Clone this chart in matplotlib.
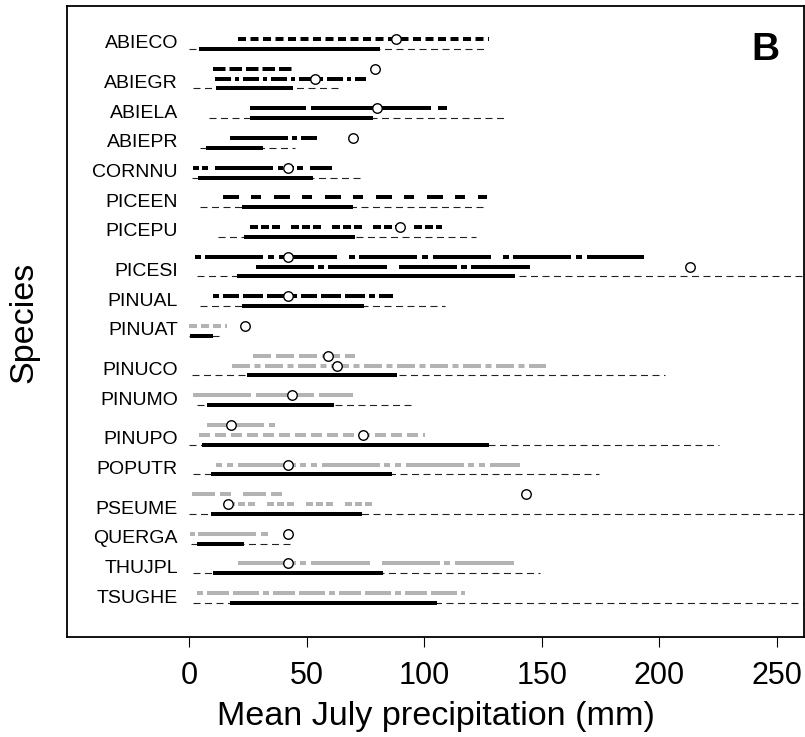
import matplotlib
import matplotlib.pyplot as plt
import numpy as np

matplotlib.use("Agg")

plt.rcParams["font.family"] = ["Liberation Sans", "DejaVu Sans"]
plt.rcParams["lines.scale_dashes"] = False

# species and their full / core precipitation ranges (mm)
species = ["ABIECO", "ABIEGR", "ABIELA", "ABIEPR", "CORNNU", "PICEEN", "PICEPU",
           "PICESI", "PINUAL", "PINUAT", "PINUCO", "PINUMO", "PINUPO", "POPUTR",
           "PSEUME", "QUERGA", "THUJPL", "TSUGHE"]
range_lo = [0, 1.7, 8.5, 4.7, 1.3, 4.7, 12.5, 3.4, 4.7, 0, 1.3, 3.4, 0, 1.7, 0, 1.0, 1.7, 1.7]
range_hi = [125.5, 64.3, 135.3, 45.1, 74, 125.1, 122.1, 300, 109, 14.5, 202.6, 96.2,
            225.5, 174.5, 300, 43, 149.4, 300]
core_lo = [4.3, 11.5, 26, 7.2, 3.8, 22.4, 23.4, 20.4, 22.6, 0.4, 24.5, 7.5, 5.5, 9.4,
           9.4, 3.4, 10.2, 17.4]
core_hi = [81, 44.3, 78.3, 31.5, 52.8, 69.8, 70.6, 138.7, 74.5, 10.2, 88.5, 61.7,
           127.7, 86.4, 73.6, 23.4, 82.6, 105.5]

# extra ranges drawn above each species (in drawing order, top to bottom)
extra_sp = ["ABIECO", "ABIEGR", "ABIEGR", "ABIELA", "ABIEPR", "CORNNU", "PICEEN",
            "PICEPU", "PICESI", "PICESI", "PINUAL", "PINUAT", "PINUCO", "PINUCO",
            "PINUMO", "PINUPO", "PINUPO", "POPUTR", "PSEUME", "PSEUME", "QUERGA",
            "THUJPL", "TSUGHE"]
extra_lo = [21, 10.2, 11, 26, 17.4, 1.7, 14.3, 26, 2.6, 28.5, 10.2, 0, 27.3, 18.4,
            1.5, 7.5, 4.3, 11.5, 1.3, 16.6, 0.4, 21, 3.4]
extra_hi = [127.6, 43.8, 75.3, 110.6, 54.5, 60.9, 126.8, 107.7, 193.6, 145.5, 86.8,
            16.2, 70.6, 151.9, 69.8, 36.6, 100.4, 140.9, 40, 80.4, 34.5, 138.7, 117.4]
extra_opt = [88, 79, 53.6, 80, 69.8, 42, np.nan, 89.8, 42, 213.2, 42, 23.8, 59.1, 63,
             43.8, 17.9, 74, 42, 143.4, 16.6, 42, 42, np.nan]

# styles of the extra lines (dash patterns in pixels)
GRAY = "#b3b3b3"
extra_color = ["k"] * 11 + [GRAY] * 12
extra_dash = [
    (8, 4.5), (12.5, 4), (16, 4, 4, 4), (56, 5, 120, 7, 9, 5), (58, 4, 5, 4, 58, 12),
    (6, 3, 6, 7, 58, 5, 5, 5), (16, 12, 10, 13), (8, 3, 8, 3, 8, 11),
    (6, 4, 58, 5, 6, 5, 58, 12), (58, 4, 6, 4, 59, 12), (6, 4, 16, 4, 20, 4, 20, 4),
    (8, 4), (18, 5), (18, 4.5, 6, 4.5), (58, 5), (57, 5, 7, 5), (11, 5),
    (6, 5, 6, 5, 58, 4), (23, 5, 11, 12), (7, 3, 7, 3, 7, 12), (5, 3, 58, 5, 7, 5),
    (58, 4, 6, 5, 59, 12), (6, 4, 22, 4, 26, 4),
]

PX = 0.72  # points per pixel at 100 dpi
THICK = 4 * PX

fig = plt.figure(figsize=(8.05, 7.37), dpi=100)
ax = fig.add_axes([67 / 805, 1 - 637 / 737, 737 / 805, 631 / 737])

# row positions: extras first, then the base row, then one blank row
pos = 0
base_y = {}
extra_y = []
for sp in species:
    n = extra_sp.count(sp)
    extra_y.extend(range(pos, pos + n))
    base_y[sp] = pos + n
    pos += n + 2

for i, sp in enumerate(species):
    y = base_y[sp]
    ax.plot([range_lo[i], range_hi[i]], [y, y], color="#222222", lw=0.8,
            dashes=(7 * PX, 4.5 * PX))
    ax.plot([core_lo[i], core_hi[i]], [y, y], color="k", lw=THICK,
            solid_capstyle="butt")
    ax.text(-4.7, y - 0.5, sp, ha="right", va="center", fontsize=14)

for j in range(len(extra_sp)):
    y = extra_y[j]
    ax.plot([extra_lo[j], extra_hi[j]], [y, y], color=extra_color[j], lw=THICK,
            dashes=[d * PX for d in extra_dash[j]], dash_capstyle="butt")
    if not np.isnan(extra_opt[j]):
        ax.plot(extra_opt[j], y, "o", ms=9.5 * PX, mfc="white", mec="k", mew=1.0,
                zorder=5)

ax.set_xlim(-51.9, 261.5)
ax.set_ylim(pos - 2 + 3.43, -3.33)
ax.set_yticks([])
ax.set_xticks([0, 50, 100, 150, 200, 250])
ax.tick_params(axis="x", length=7.2, width=0.8, labelsize=22, pad=10)
for s in ax.spines.values():
    s.set_linewidth(1.3)

fig.text(435.5 / 805, 1 - 717 / 737, "Mean July precipitation (mm)", fontsize=24.6,
         ha="center", va="center")
fig.text(24 / 805, 1 - 322 / 737, "Species", fontsize=24.6, rotation=90,
         ha="center", va="center")
ax.text(0.947, 0.930, "B", transform=ax.transAxes, fontsize=28, fontweight="bold",
        ha="center", va="center")

fig.savefig("out.png", dpi=100)
